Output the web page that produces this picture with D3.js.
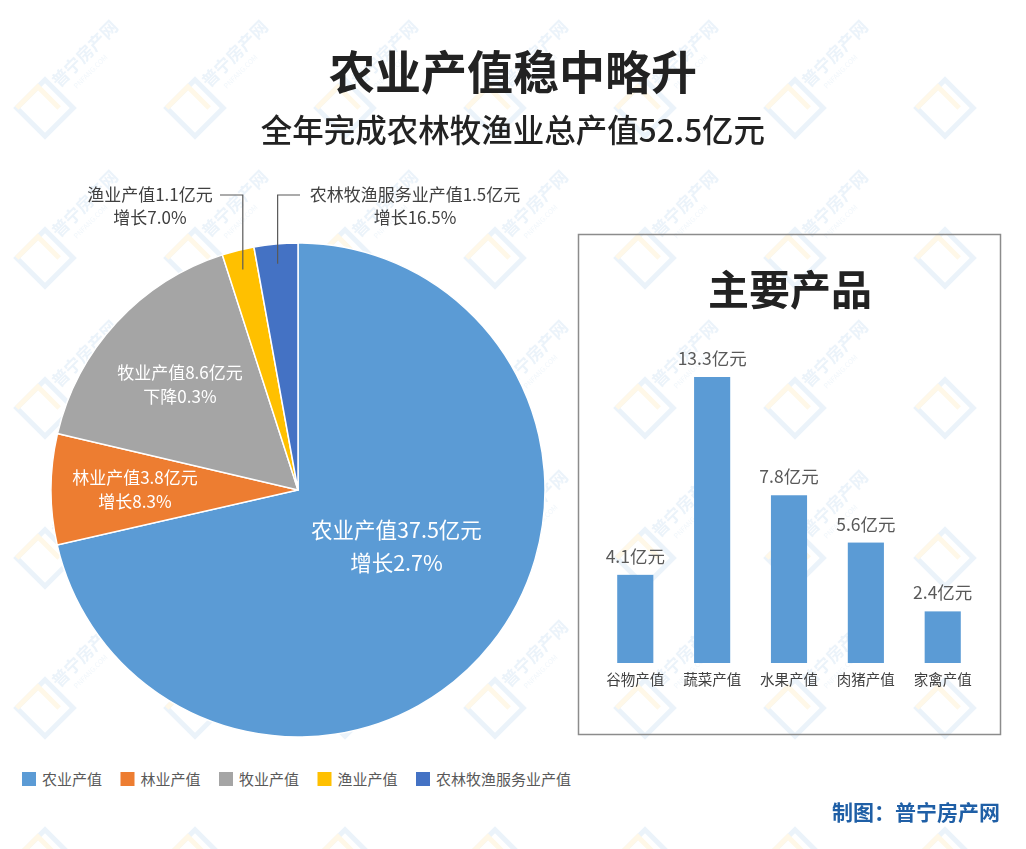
<!DOCTYPE html>
<html>
<head>
<meta charset="utf-8">
<script src="https://cdn.jsdelivr.net/npm/d3@7"></script>
<style>
  body { margin: 0; background: #fff; }
  svg { display: block; font-family: "Noto Sans CJK SC", "Noto Sans", sans-serif; }
</style>
</head>
<body>
<div id="chart"></div>
<script>
// pie data
var pieNames = ["农业产值", "林业产值", "牧业产值", "渔业产值", "农林牧渔服务业产值"];
var pieValues = [37.5, 3.8, 8.6, 1.1, 1.5];
var pieGrowth = ["增长2.7%", "增长8.3%", "下降0.3%", "增长7.0%", "增长16.5%"];
var pieColors = ["#5B9BD5", "#ED7D31", "#A5A5A5", "#FFC000", "#4472C4"];

// bar data
var barNames = ["谷物产值", "蔬菜产值", "水果产值", "肉猪产值", "家禽产值"];
var barValues = [4.1, 13.3, 7.8, 5.6, 2.4];

var W = 1026, H = 849;
var svg = d3.select("#chart").append("svg")
  .attr("width", W)
  .attr("height", H);

svg.append("rect").attr("width", W).attr("height", H).attr("fill", "#fff");

// faint watermark pattern
var wm = svg.append("g").attr("opacity", 0.2);
for (var gx = 45; gx < W + 150; gx += 150) {
  for (var gy = 108; gy < H + 150; gy += 150) {
    var g = wm.append("g").attr("transform", "translate(" + gx + "," + gy + ") rotate(-45)");
    g.append("rect").attr("x", -20).attr("y", -20).attr("width", 40).attr("height", 40)
      .attr("fill", "none").attr("stroke", "#9cc3e6").attr("stroke-width", 5);
    g.append("path").attr("d", "M-20,-20 L10,-20 L10,10")
      .attr("fill", "none").attr("stroke", "#ffd98a").attr("stroke-width", 5);
    // only keep the watermark words where they fit inside the picture
    if (gx + 120 < W && gy < H - 10) {
      g.append("text").attr("x", 24).attr("y", -4).attr("font-size", 17).attr("font-weight", "bold")
        .attr("fill", "#9cc3e6").text("普宁房产网");
      g.append("text").attr("x", 36).attr("y", 9).attr("font-size", 7)
        .attr("fill", "#b9d3ea").text("PNFANG.COM");
    }
  }
}

// titles
svg.append("text")
  .attr("x", 513).attr("y", 89)
  .attr("text-anchor", "middle")
  .attr("font-size", 46).attr("font-weight", "bold")
  .attr("fill", "#222")
  .text("农业产值稳中略升");

svg.append("text")
  .attr("x", 513).attr("y", 142)
  .attr("text-anchor", "middle")
  .attr("font-size", 31.5).attr("font-weight", 500)
  .attr("fill", "#222")
  .text("全年完成农林牧渔业总产值52.5亿元");

// pie
var cx = 298, cy = 490, r = 247;
var pie = d3.pie().sort(null).value(function(d) { return d; });
var arc = d3.arc().innerRadius(0).outerRadius(r);
var arcs = pie(pieValues);

var pg = svg.append("g").attr("transform", "translate(" + cx + "," + cy + ")");
pg.selectAll("path")
  .data(arcs)
  .enter()
  .append("path")
    .attr("d", arc)
    .attr("fill", function(d, i) { return pieColors[i]; })
    .attr("stroke", "#fff")
    .attr("stroke-width", 1.5);

// labels inside: position by radius fraction along slice mid angle
var inside = [
  {i: 0, rad: 0.51, dy: -22, size: 21.5, gap: 33},
  {i: 1, rad: 0.66, dy: 0, size: 17, gap: 24},
  {i: 2, rad: 0.65, dy: 4, size: 17, gap: 24}
];
inside.forEach(function(o) {
  var a = arcs[o.i];
  var c = d3.arc().innerRadius(r * o.rad).outerRadius(r * o.rad).centroid(a);
  var yc = c[1] + o.dy;
  var t = pg.append("text")
    .attr("text-anchor", "middle")
    .attr("fill", "#fff")
    .attr("font-size", o.size);
  t.append("tspan").attr("x", c[0]).attr("y", yc - o.gap / 2 + o.size * 0.36)
    .text(pieNames[o.i] + pieValues[o.i] + "亿元");
  t.append("tspan").attr("x", c[0]).attr("y", yc + o.gap / 2 + o.size * 0.36)
    .text(pieGrowth[o.i]);
});

// outside labels with leader lines
var outside = [
  {i: 3, tx: 150, ty: 195, side: "left"},
  {i: 4, tx: 415, ty: 195, side: "right"}
];
var outerArc = d3.arc().innerRadius(r * 0.92).outerRadius(r * 0.92);
outside.forEach(function(o) {
  var c = outerArc.centroid(arcs[o.i]);
  var px = cx + c[0], py = cy + c[1];
  var lineX = o.side == "left" ? 220 : 300;
  svg.append("path")
    .attr("d", "M" + lineX + "," + o.ty + " L" + px + "," + o.ty + " L" + px + "," + py)
    .attr("fill", "none")
    .attr("stroke", "#595959")
    .attr("stroke-width", 1.2);
  var t = svg.append("text")
    .attr("text-anchor", "middle")
    .attr("fill", "#404040")
    .attr("font-size", 17);
  t.append("tspan").attr("x", o.tx).attr("y", o.ty + 6)
    .text(pieNames[o.i] + pieValues[o.i] + "亿元");
  t.append("tspan").attr("x", o.tx).attr("y", o.ty + 29)
    .text(pieGrowth[o.i]);
});

// legend
var legend = svg.append("g").attr("transform", "translate(22,772)");
var lg = legend.selectAll("g")
  .data(pieNames)
  .enter()
  .append("g")
    .attr("transform", function(d, i) { return "translate(" + (i * 98.5) + ",0)"; });
lg.append("rect")
  .attr("width", 14).attr("height", 14)
  .attr("fill", function(d, i) { return pieColors[i]; });
lg.append("text")
  .attr("x", 20).attr("y", 13)
  .attr("font-size", 15)
  .attr("fill", "#595959")
  .text(function(d) { return d; });

// bar box
svg.append("rect")
  .attr("x", 578.5).attr("y", 234.5)
  .attr("width", 422).attr("height", 500)
  .attr("fill", "none")
  .attr("stroke", "#8c8c8c")
  .attr("stroke-width", 1.5);

svg.append("text")
  .attr("x", 790).attr("y", 305)
  .attr("text-anchor", "middle")
  .attr("font-size", 41).attr("font-weight", "bold")
  .attr("fill", "#222")
  .text("主要产品");

var x = d3.scaleBand()
  .domain(barNames)
  .range([598, 980])
  .paddingInner(0.53)
  .paddingOuter(0.25);
var y = d3.scaleLinear()
  .domain([0, 13.3])
  .range([663, 377]);

svg.append("g")
  .selectAll("rect")
  .data(barValues)
  .enter()
  .append("rect")
    .attr("x", function(d, i) { return x(barNames[i]); })
    .attr("y", function(d) { return y(d); })
    .attr("width", x.bandwidth())
    .attr("height", function(d) { return y(0) - y(d); })
    .attr("fill", "#5B9BD5");

svg.append("g")
  .selectAll("text")
  .data(barValues)
  .enter()
  .append("text")
    .attr("x", function(d, i) { return x(barNames[i]) + x.bandwidth() / 2; })
    .attr("y", function(d) { return y(d) - 12; })
    .attr("text-anchor", "middle")
    .attr("font-size", 17.5)
    .attr("fill", "#595959")
    .text(function(d) { return d + "亿元"; });

var xAxis = svg.append("g")
  .attr("transform", "translate(0,663)")
  .call(d3.axisBottom(x).tickSize(0).tickPadding(12));
xAxis.select(".domain").remove();
xAxis.selectAll("text")
  .attr("font-size", 14.5)
  .attr("font-family", "Noto Sans CJK SC, sans-serif")
  .attr("fill", "#404040");

// credit
svg.append("text")
  .attr("x", 1000).attr("y", 820)
  .attr("text-anchor", "end")
  .attr("font-size", 21).attr("font-weight", "bold")
  .attr("fill", "#1f5fa6")
  .text("制图：普宁房产网");
</script>
</body>
</html>
